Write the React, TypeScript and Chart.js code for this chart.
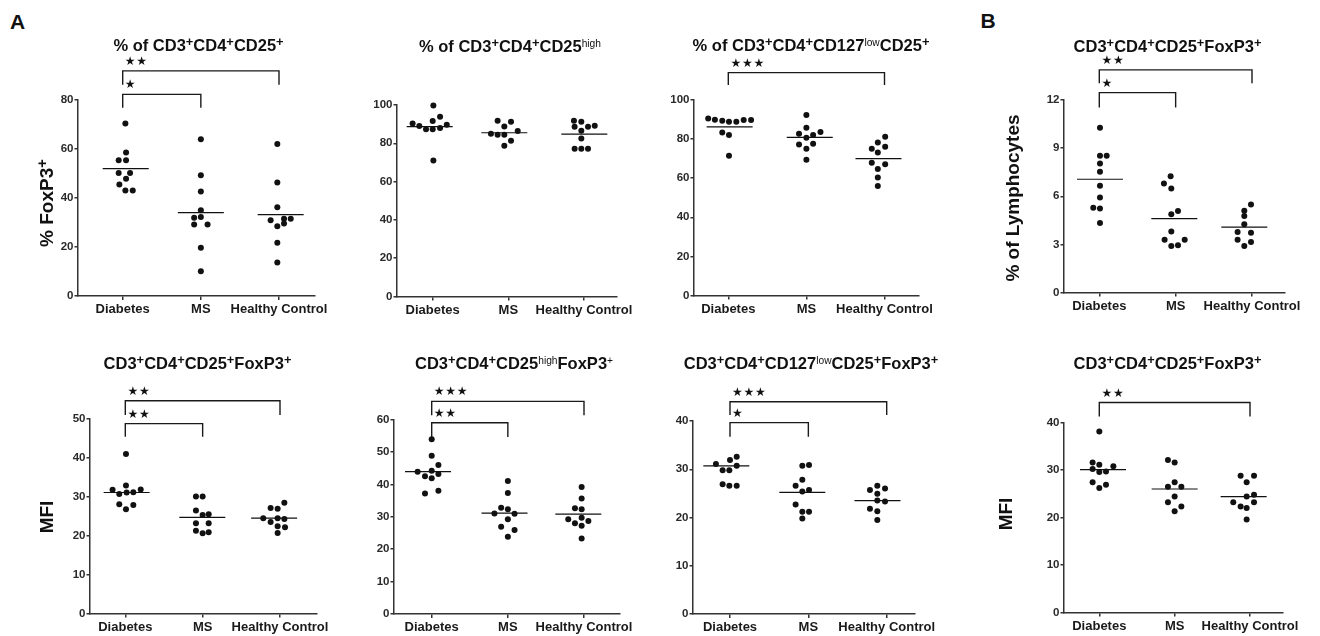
import React, { useEffect, useRef } from "react";
import { Chart, registerables } from "chart.js";

Chart.register(...registerables);

const FONT = '"Liberation Sans", Arial, Helvetica, sans-serif';

const categories = ["Diabetes", "MS", "Healthy Control"];

// ---- Panel A, top-left: % of CD3+CD4+CD25+ (FoxP3+) ----
const a1Values = [
  [70.4, 58.6, 55.4, 55.4, 50.2, 50.2, 47.9, 45.5, 43.1, 43.1],
  [64.0, 49.3, 42.7, 35.0, 31.9, 32.2, 29.2, 29.2, 19.7, 10.1],
  [62.0, 46.3, 36.2, 30.9, 31.5, 31.5, 28.5, 29.6, 21.7, 13.7],
];
const a1Slots = [
  [0.4, 0.5, -0.6, 0.5, -0.6, 1.1, 0.5, -0.5, 0.4, 1.5],
  [0, 0, 0, 0, -1, 0, -1, 1, 0, 0],
  [-0.25, -0.25, -0.25, -1.25, 0.75, 1.75, -0.25, 0.75, -0.25, -0.25],
];
const a1Means = [52.0, 34.0, 33.2];
const a1Ticks = [0, 20, 40, 60, 80];
const a1Sig = [
  { from: 0, to: 2, top: 91.9, leg: 86.2, stars: 2 },
  { from: 0, to: 1, top: 82.3, leg: 76.8, stars: 1 },
];

// ---- Panel A, top-middle: % of CD3+CD4+CD25high ----
const a2Values = [
  [99.8, 93.9, 91.6, 90.4, 89.7, 89.0, 87.4, 87.4, 88.0, 71.0],
  [91.8, 91.3, 88.8, 86.4, 85.0, 84.5, 84.5, 81.3, 78.7],
  [91.8, 91.3, 88.7, 88.7, 89.2, 86.6, 82.5, 77.1, 77.1, 77.1],
];
const a2Slots = [
  [0.1, 1.1, 0, -3, 2.1, -2, -1, 0, 1.1, 0.1],
  [-1.6, 0.4, -0.6, 1.4, -2.6, -1.6, -0.6, 0.4, -0.6],
  [-1.5, -0.4, -1.4, 0.6, 1.6, -0.4, -0.4, -1.4, -0.4, 0.6],
];
const a2Means = [88.7, 85.5, 84.8];
const a2Ticks = [0, 20, 40, 60, 80, 100];
const a2Sig: Sig[] = [];

// ---- Panel A, top-right: % of CD3+CD4+CD127lowCD25+ ----
const a3Values = [
  [90.6, 89.9, 89.4, 88.9, 88.9, 89.8, 89.8, 83.4, 82.1, 71.5],
  [92.3, 85.8, 82.8, 83.6, 82.1, 80.7, 77.3, 77.6, 75.1, 69.5],
  [81.2, 78.3, 76.1, 75.1, 73.2, 67.9, 67.1, 64.7, 60.4, 56.0],
];
const a3Slots = [
  [-3, -2, -0.9, 0.1, 1.2, 2.3, 3.4, -0.9, 0.1, 0.1],
  [0, 0, -1.1, 2.1, 1, 0, -1.1, 1, 0, 0],
  [0.1, -1, 0.1, -1.9, -1, -1.9, 0.1, -1, -1, -1],
];
const a3Means = [86.3, 80.9, 70.0];
const a3Ticks = [0, 20, 40, 60, 80, 100];
const a3Sig = [{ from: 0, to: 2, top: 114, leg: 107.7, stars: 3 }];

// ---- Panel B, top: CD3+CD4+CD25+FoxP3+ (% of lymphocytes) ----
const b1Values = [
  [10.27, 8.52, 8.52, 8.04, 7.52, 6.65, 5.92, 5.29, 5.23, 4.33],
  [7.25, 6.79, 6.48, 5.08, 4.88, 3.81, 3.29, 3.29, 2.9, 2.94],
  [5.48, 5.1, 4.77, 4.25, 3.77, 3.73, 3.29, 3.15, 2.9],
];
const b1Slots = [
  [0.1, 0.1, 1.1, 0.1, 0.1, 0.1, 0.1, -0.9, 0.1, 0.1],
  [-0.75, -1.75, -0.65, 0.35, -0.65, -0.65, -1.65, 1.35, -0.65, 0.35],
  [-0.15, -1.15, -1.15, -1.15, -2.15, -0.15, -2.15, -0.15, -1.15],
];
const b1Means = [7.06, 4.6, 4.08];
const b1Ticks = [0, 3, 6, 9, 12];
const b1Sig = [
  { from: 0, to: 2, top: 13.88, leg: 13.04, stars: 2 },
  { from: 0, to: 1, top: 12.46, leg: 11.54, stars: 1 },
];

// ---- Panel A, bottom-left: CD3+CD4+CD25+FoxP3+ (MFI) ----
const a4Values = [
  [41.0, 32.9, 31.9, 31.8, 31.2, 31.1, 30.7, 28.1, 27.9, 26.8],
  [30.1, 30.1, 26.5, 25.5, 25.3, 23.2, 23.2, 21.3, 20.9, 20.6],
  [28.5, 27.1, 26.9, 24.5, 24.5, 24.3, 23.5, 22.4, 22.2, 20.7],
];
const a4Slots = [
  [0.1, 0.1, 2.3, -1.9, 1.2, 0.2, -0.9, -0.9, 1.2, 0.1],
  [-1, 0, -1, 0.9, 0, -1, 0.9, -1, 0.9, 0],
  [0.65, -1.4, -0.35, -2.5, -0.35, 0.65, -1.4, -0.35, 0.75, -0.35],
];
const a4Means = [31.1, 24.7, 24.5];
const a4Ticks = [0, 10, 20, 30, 40, 50];
const a4Sig = [
  { from: 0, to: 2, top: 54.7, leg: 51.0, stars: 2 },
  { from: 0, to: 1, top: 48.8, leg: 45.45, stars: 2 },
];

// ---- Panel A, bottom-middle: CD3+CD4+CD25highFoxP3+ (MFI) ----
const a5Values = [
  [53.9, 48.8, 46.0, 44.2, 43.9, 43.2, 42.5, 41.9, 38.0, 37.2],
  [41.0, 37.3, 32.8, 32.3, 31.0, 30.9, 29.2, 26.9, 25.9, 23.8],
  [39.2, 35.6, 32.6, 32.3, 29.7, 29.2, 28.7, 28.0, 27.2, 23.3],
];
const a5Slots = [
  [0, 0, 1, 0, -2.1, 1, -1, 0, 1, -1],
  [0, 0, -1, 0, -2, 1, 0, -1, 1, 0],
  [-0.35, -0.35, -1.35, -0.35, -0.35, -2.35, 0.65, -1.35, -0.35, -0.35],
];
const a5Means = [43.9, 31.1, 30.8];
const a5Ticks = [0, 10, 20, 30, 40, 50, 60];
const a5Sig = [
  { from: 0, to: 2, top: 65.6, leg: 61.3, stars: 3 },
  { from: 0, to: 1, top: 59.0, leg: 54.6, stars: 2 },
];

// ---- Panel A, bottom-right: CD3+CD4+CD127lowCD25+FoxP3+ (MFI) ----
const a6Values = [
  [32.6, 31.9, 31.1, 30.7, 29.8, 29.8, 26.9, 26.6, 26.6],
  [30.9, 30.7, 27.8, 26.6, 25.7, 25.4, 22.7, 21.2, 21.2, 19.8],
  [26.6, 26.0, 25.7, 24.9, 23.5, 23.3, 21.8, 21.3, 19.5],
];
const a6Slots = [
  [1, 0, -2.1, 1, -1.1, -0.1, -1.1, -0.1, 1],
  [0.1, -0.9, -0.9, -1.9, 0.1, -0.9, -1.9, -0.9, 0.1, -0.9],
  [-1.4, -0.25, -2.5, -1.4, -1.4, -0.25, -2.5, -1.4, -1.4],
];
const a6Means = [30.7, 25.2, 23.5];
const a6Ticks = [0, 10, 20, 30, 40];
const a6Sig = [
  { from: 0, to: 2, top: 44.0, leg: 41.25, stars: 3 },
  { from: 0, to: 1, top: 39.66, leg: 36.75, stars: 1 },
];

// ---- Panel B, bottom: CD3+CD4+CD25+FoxP3+ (MFI) ----
const b2Values = [
  [38.1, 31.6, 31.1, 30.8, 30.2, 29.7, 29.6, 27.4, 26.9, 26.2],
  [32.1, 31.6, 27.4, 26.5, 26.5, 24.4, 23.2, 22.3, 21.3],
  [28.8, 28.8, 27.4, 24.8, 24.4, 23.2, 23.2, 22.3, 22.0, 19.6],
];
const b2Slots = [
  [0, -1, 0, 2.1, -1, 1, 0, -1, 1, 0],
  [-1, 0, 0, -1, 1, 0, -1, 1, 0],
  [-1.4, 0.6, -0.5, 0.6, -0.5, -2.5, 0.6, -1.4, -0.5, -0.5],
];
const b2Means = [30.1, 26.0, 24.4];
const b2Ticks = [0, 10, 20, 30, 40];
const b2Sig = [{ from: 0, to: 2, top: 44.2, leg: 41.26, stars: 2 }];

type Sig = { from: number; to: number; top: number; leg: number; stars: number };
type Box = { l: number; r: number; t: number; b: number; c0: number; c2: number };

// layout (page pixels): plot-area edges and first/last category positions
const SLOT_PX = 6.7;
const MEAN_HALF_PX = 23;

const starPlugin = {
  id: "sigStars",
  afterDatasetsDraw(chart: any, _args: any, opts: any) {
    const sig: Sig[] = (opts && opts.sig) || [];
    const { ctx } = chart;
    const xs = chart.scales.x;
    const ys = chart.scales.y;
    ctx.save();
    ctx.fillStyle = "#111";
    ctx.font = '12px "DejaVu Sans"';
    ctx.textAlign = "center";
    ctx.textBaseline = "middle";
    sig.forEach((s) => {
      const x0 = xs.getPixelForValue(s.from) + 7.5;
      const y0 = ys.getPixelForValue(s.top) - 9;
      for (let i = 0; i < s.stars; i++) ctx.fillText("\u2605", x0 + i * 11.5, y0);
    });
    ctx.restore();
  },
};

function Panel(props: {
  values: number[][];
  slots: number[][];
  means: number[];
  ticks: number[];
  sig: Sig[];
  box: Box;
}) {
  const { values, slots, means, ticks, sig, box } = props;
  const ref = useRef<HTMLCanvasElement>(null);
  const cl = Math.floor(box.l) - 60;
  const ct = Math.floor(box.t) - 60;
  const cw = Math.ceil(box.r) + 40 - cl;
  const ch = Math.ceil(box.b) + 26 - ct;

  useEffect(() => {
    if (!ref.current) return;
    const spacing = (box.c2 - box.c0) / 2;
    const slot = SLOT_PX / spacing;
    const half = MEAN_HALF_PX / spacing;
    const xMin = -(box.c0 - box.l) / spacing;
    const xMax = 2 + (box.r - box.c2) / spacing;
    const datasets: any[] = [];
    values.forEach((grp, gi) => {
      datasets.push({
        data: grp.map((v, i) => ({ x: gi + slots[gi][i] * slot, y: v })),
        pointRadius: 3,
        pointBackgroundColor: "#111",
        pointBorderWidth: 0,
        showLine: false,
        clip: false,
      });
      const sl = slots[gi];
      const mid = gi + ((Math.min(...sl) + Math.max(...sl)) / 2) * slot;
      datasets.push({
        data: [
          { x: mid - half, y: means[gi] },
          { x: mid + half, y: means[gi] },
        ],
        showLine: true,
        pointRadius: 0,
        borderColor: "#111",
        borderWidth: 1.2,
      });
    });
    sig.forEach((s) =>
      datasets.push({
        data: [
          { x: s.from, y: s.leg },
          { x: s.from, y: s.top },
          { x: s.to, y: s.top },
          { x: s.to, y: s.leg },
        ],
        showLine: true,
        pointRadius: 0,
        borderColor: "#1a1a1a",
        borderWidth: 1.4,
        clip: false,
      })
    );
    const axisColor = "#333";
    const chart = new Chart(ref.current, {
      type: "scatter",
      data: { datasets },
      plugins: [starPlugin as any],
      options: {
        responsive: false,
        animation: false,
        devicePixelRatio: 1,
        events: [],
        layout: {
          padding: { top: box.t - ct, right: cw - (box.r - cl), left: 0, bottom: 0 },
        },
        plugins: {
          legend: { display: false },
          tooltip: { enabled: false },
          title: { display: false },
          sigStars: { sig },
        } as any,
        scales: {
          x: {
            type: "linear",
            min: xMin,
            max: xMax,
            afterBuildTicks: (s: any) => {
              s.ticks = categories.map((_, i) => ({ value: i }));
            },
            afterFit: (s: any) => {
              s.height = ch - (box.b - ct);
              s.paddingLeft = 0;
              s.paddingRight = 0;
            },
            ticks: {
              callback: (_v: any, i: number) => categories[i],
              autoSkip: false,
              maxRotation: 0,
              minRotation: 0,
              padding: 2,
              color: "#1a1a1a",
              font: { family: FONT, size: 13, weight: "bold" },
            },
            grid: { drawOnChartArea: false, drawTicks: true, tickLength: 4, color: axisColor, lineWidth: 1.5 },
            border: { display: true, color: axisColor, width: 1.5 },
          },
          y: {
            type: "linear",
            min: 0,
            max: ticks[ticks.length - 1],
            afterBuildTicks: (s: any) => {
              s.ticks = ticks.map((v) => ({ value: v }));
            },
            afterFit: (s: any) => {
              s.width = box.l - cl;
              s.paddingTop = 0;
              s.paddingBottom = 0;
            },
            ticks: {
              padding: 1,
              color: "#2a2a2a",
              font: { family: FONT, size: 11.5, weight: "bold" },
            },
            grid: { drawOnChartArea: false, drawTicks: true, tickLength: 3, color: axisColor, lineWidth: 1.5 },
            border: { display: true, color: axisColor, width: 1.5 },
          },
        },
      } as any,
    });
    return () => chart.destroy();
  }, []);

  return (
    <canvas
      ref={ref}
      width={cw}
      height={ch}
      style={{ position: "absolute", left: cl, top: ct, width: cw, height: ch }}
    />
  );
}

const Sup = ({ children, thin }: { children: React.ReactNode; thin?: boolean }) => (
  <span
    style={{
      fontSize: thin ? "0.62em" : "0.78em",
      verticalAlign: thin ? "0.5em" : "0.4em",
      fontWeight: thin ? "normal" : "bold",
      lineHeight: 0,
    }}
  >
    {children}
  </span>
);

const Label = ({
  x,
  y,
  size,
  rotate,
  children,
}: {
  x: number;
  y: number;
  size: number;
  rotate?: boolean;
  children: React.ReactNode;
}) => (
  <div
    style={{
      position: "absolute",
      left: x,
      top: y,
      transform: `translate(-50%, -50%)${rotate ? " rotate(-90deg)" : ""}`,
      whiteSpace: "nowrap",
      fontFamily: FONT,
      fontWeight: "bold",
      fontSize: size,
      lineHeight: 1,
      color: "#111",
    }}
  >
    {children}
  </div>
);

const fox = (
  <>
    CD3<Sup>+</Sup>CD4<Sup>+</Sup>CD25<Sup>+</Sup>FoxP3<Sup>+</Sup>
  </>
);

export default function App() {
  return (
    <div
      style={{
        position: "absolute",
        left: 0,
        top: 0,
        width: 1320,
        height: 636,
        background: "#fff",
        overflow: "hidden",
      }}
    >
      <Panel values={a1Values} slots={a1Slots} means={a1Means} ticks={a1Ticks} sig={a1Sig}
        box={{ l: 77.5, r: 315, t: 100, b: 296, c0: 122.7, c2: 279 }} />
      <Panel values={a2Values} slots={a2Slots} means={a2Means} ticks={a2Ticks} sig={a2Sig}
        box={{ l: 396.5, r: 617, t: 105, b: 296.5, c0: 432.7, c2: 584 }} />
      <Panel values={a3Values} slots={a3Slots} means={a3Means} ticks={a3Ticks} sig={a3Sig}
        box={{ l: 693.5, r: 919, t: 100, b: 295.5, c0: 728.3, c2: 884.5 }} />
      <Panel values={b1Values} slots={b1Slots} means={b1Means} ticks={b1Ticks} sig={b1Sig}
        box={{ l: 1063.5, r: 1285, t: 100, b: 292.5, c0: 1099.3, c2: 1252 }} />
      <Panel values={a4Values} slots={a4Slots} means={a4Means} ticks={a4Ticks} sig={a4Sig}
        box={{ l: 89.5, r: 317, t: 419, b: 613.5, c0: 125.3, c2: 280 }} />
      <Panel values={a5Values} slots={a5Slots} means={a5Means} ticks={a5Ticks} sig={a5Sig}
        box={{ l: 393.5, r: 620, t: 419.5, b: 614, c0: 431.7, c2: 584 }} />
      <Panel values={a6Values} slots={a6Slots} means={a6Means} ticks={a6Ticks} sig={a6Sig}
        box={{ l: 692.5, r: 915, t: 421, b: 614, c0: 730, c2: 886.7 }} />
      <Panel values={b2Values} slots={b2Slots} means={b2Means} ticks={b2Ticks} sig={b2Sig}
        box={{ l: 1063.5, r: 1283, t: 422.5, b: 612.5, c0: 1099.3, c2: 1250 }} />

      <Label x={17.5} y={20.5} size={21}>A</Label>
      <Label x={988} y={19.5} size={21}>B</Label>

      <Label x={198.5} y={45} size={16.5}>
        % of CD3<Sup>+</Sup>CD4<Sup>+</Sup>CD25<Sup>+</Sup>
      </Label>
      <Label x={510} y={45.5} size={16.5}>
        % of CD3<Sup>+</Sup>CD4<Sup>+</Sup>CD25<Sup thin>high</Sup>
      </Label>
      <Label x={811} y={45} size={16.5}>
        % of CD3<Sup>+</Sup>CD4<Sup>+</Sup>CD127<Sup thin>low</Sup>CD25<Sup>+</Sup>
      </Label>
      <Label x={1167.5} y={45.5} size={16.5}>{fox}</Label>

      <Label x={197.5} y={363} size={16.5}>{fox}</Label>
      <Label x={514} y={363} size={16.5}>
        CD3<Sup>+</Sup>CD4<Sup>+</Sup>CD25<Sup thin>high</Sup>FoxP3<Sup thin>+</Sup>
      </Label>
      <Label x={811} y={363} size={16.5}>
        CD3<Sup>+</Sup>CD4<Sup>+</Sup>CD127<Sup thin>low</Sup>CD25<Sup>+</Sup>FoxP3<Sup>+</Sup>
      </Label>
      <Label x={1167.5} y={363} size={16.5}>{fox}</Label>

      <Label x={46} y={203} size={19} rotate>
        % FoxP3<Sup>+</Sup>
      </Label>
      <Label x={1011.7} y={197.5} size={19} rotate>
        % of Lymphocytes
      </Label>
      <Label x={45.7} y={517} size={19} rotate>
        MFI
      </Label>
      <Label x={1004.5} y={513.5} size={19} rotate>
        MFI
      </Label>
    </div>
  );
}
